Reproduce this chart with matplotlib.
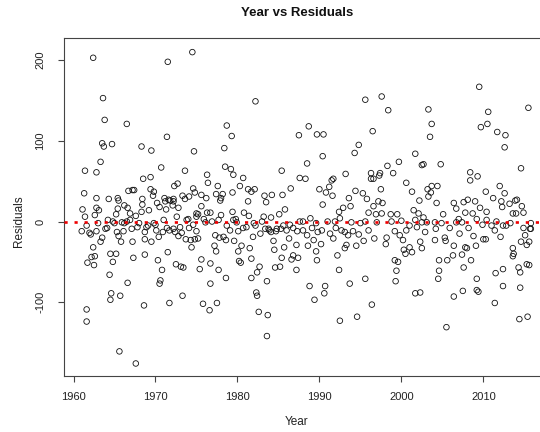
import matplotlib
matplotlib.use("Agg")
import matplotlib.pyplot as plt

# residual points, (year, residual)
pts_1960s = [
    (1962.4, 203), (1971.5, 198), (1963.6, 153), (1963.8, 126), (1966.5, 121), (1971.4, 105),
    (1963.5, 97), (1963.7, 93), (1964.7, 96), (1968.3, 93), (1969.5, 88), (1963.3, 74),
    (1961.4, 63), (1962.8, 61), (1970.7, 67), (1968.5, 53), (1969.4, 55), (1972.3, 44),
    (1972.7, 47), (1961.3, 35), (1962.8, 29), (1965.4, 29), (1965.5, 26), (1966.7, 38),
    (1967.2, 39), (1967.4, 39), (1968.4, 28), (1969.4, 40), (1969.8, 37), (1969.7, 32),
    (1971.1, 29), (1971.6, 27), (1972.2, 28), (1973.3, 32),
    (1961.1, 15), (1961.4, 6), (1962.8, 17), (1963.1, 14), (1962.6, 8), (1964.3, 28),
    (1966.2, 20), (1966.6, 17), (1965.4, 16), (1965.2, 9), (1966.9, 10), (1967.6, 7),
    (1968.4, 21), (1968.3, 12), (1969.2, 14), (1970.2, 23), (1970.5, 18), (1971.2, 25),
    (1971.8, 26), (1972.2, 25), (1971.3, 15), (1972.1, 20), (1972.8, 17), (1972.6, 6),
    (1961.0, -12), (1961.6, -5), (1961.95, -14), (1962.1, -16), (1962.8, -12), (1963.0, -2),
    (1963.5, -20), (1963.3, -25), (1963.9, -9), (1964.1, -8), (1964.2, 2), (1964.8, 0),
    (1965.0, -2), (1965.3, -13), (1965.8, -25), (1965.5, -18), (1965.9, -1), (1966.2, -2),
    (1966.5, 0), (1966.1, -12), (1966.9, 2), (1967.1, -9), (1967.2, -25), (1967.8, -7),
    (1968.0, -2), (1968.7, -13), (1968.9, -7), (1968.7, -22), (1969.1, -5), (1969.5, -25),
    (1969.8, -2), (1970.0, -4), (1970.1, -11), (1970.4, -19), (1970.9, -13), (1971.0, 2),
    (1971.4, -8), (1971.7, -11), (1972.2, -9), (1972.4, -13), (1972.8, -18), (1973.0, -7),
    (1973.2, -14),
    (1962.4, -32), (1962.6, -43), (1962.2, -44), (1961.7, -51), (1962.5, -54), (1964.5, -40),
    (1965.2, -40), (1964.8, -50), (1964.4, -66), (1967.3, -45), (1968.7, -41), (1966.6, -76),
    (1964.6, -89), (1964.5, -97), (1965.7, -92), (1968.6, -104), (1961.6, -109), (1961.6, -124),
    (1965.6, -161), (1967.6, -176), (1970.3, -48), (1970.8, -60), (1971.5, -38), (1970.6, -73),
    (1970.5, -77), (1971.7, -101), (1972.5, -53), (1973.1, -56), (1973.3, -92),
]

pts_1970s = [
    (1974.5, 210), (1982.2, 149), (1978.7, 119), (1979.3, 106), (1987.5, 107), (1974.7, 87),
    (1978.4, 91), (1973.6, 63), (1976.3, 58), (1978.5, 68), (1979.2, 65), (1979.5, 58),
    (1980.7, 54), (1985.4, 63), (1987.6, 54), (1976.4, 48), (1977.6, 44), (1974.6, 41),
    (1974.8, 36), (1974.1, 31), (1973.6, 28), (1975.6, 33), (1976.2, 29), (1977.4, 34),
    (1978.2, 34), (1978.0, 29), (1977.9, 26), (1979.4, 36), (1980.3, 44), (1981.3, 40),
    (1981.7, 37), (1982.1, 40), (1981.3, 25), (1983.3, 32), (1984.2, 33), (1983.5, 24),
    (1985.5, 33), (1986.5, 41),
    (1975.6, 19), (1976.3, 11), (1976.7, 11), (1975.2, 9), (1975.0, 6), (1978.0, 8),
    (1979.4, 12), (1980.8, 11), (1981.4, 7), (1979.8, 3), (1983.2, 6), (1984.1, 5),
    (1985.1, 9), (1985.8, 15),
    (1973.8, 2), (1974.1, -8), (1974.6, -4), (1975.0, -12), (1973.7, -22), (1974.3, -23),
    (1974.8, -22), (1975.2, -21), (1974.4, -32), (1977.3, -17), (1977.8, -20), (1977.2, -30),
    (1977.4, -37), (1978.3, -19), (1978.6, -23), (1979.1, -11), (1979.6, -24), (1980.1, -12),
    (1980.7, -8), (1981.1, -7), (1982.0, -2), (1981.9, -19), (1982.8, -15), (1980.1, -37),
    (1980.5, -30), (1981.5, -33), (1981.7, -46), (1983.4, -9), (1984.1, -13), (1984.7, -12),
    (1985.3, -9), (1986.0, -11), (1986.8, -8), (1987.3, -12), (1984.4, -24), (1984.5, -35),
    (1985.7, -32), (1986.3, -21), (1987.2, -29), (1985.4, -45), (1986.6, -47), (1986.8, -42),
    (1987.4, -45),
    (1974.0, 3), (1975.0, 10), (1975.9, 3), (1976.1, -1), (1976.9, 0), (1977.7, 2),
    (1978.7, -5), (1979.5, 2), (1979.9, -1), (1982.2, -5), (1983.0, 0), (1983.8, -9),
    (1983.9, -11), (1984.8, -9), (1985.6, -5), (1986.4, -4), (1987.6, 0),
    (1975.6, -47), (1976.7, -52), (1975.4, -59), (1977.7, -60), (1978.6, -70), (1976.7, -77),
    (1973.4, -57), (1980.2, -49), (1980.4, -51), (1982.7, -56), (1982.4, -63), (1981.7, -70),
    (1983.6, -74), (1984.6, -57), (1985.2, -56), (1987.2, -60), (1982.3, -88), (1982.4, -92),
    (1975.8, -102), (1977.5, -101), (1976.6, -110), (1982.6, -112), (1983.7, -116), (1983.6, -142),
]

pts_1990s = [
    (1995.6, 151), (1997.6, 155), (1998.4, 138), (1988.7, 118), (1989.7, 108), (1990.5, 108),
    (1996.5, 112), (1994.8, 95), (1994.3, 85), (1990.4, 81), (2001.7, 84), (1988.5, 72),
    (1999.7, 74), (1998.3, 69), (2002.5, 70), (1999.0, 60), (1993.2, 59), (1996.3, 60),
    (1996.3, 53), (1997.4, 60), (1997.3, 57), (1996.6, 53), (1988.3, 53), (1991.5, 51),
    (1991.7, 53), (1991.2, 43), (2000.6, 48), (1990.0, 40), (1990.8, 36), (1991.6, 32),
    (1994.4, 38), (1995.3, 35), (1995.8, 28), (1993.6, 29), (1997.5, 40), (2001.3, 37),
    (2002.2, 26), (1997.2, 25), (1997.7, 23),
    (1990.4, 21), (1992.4, 12), (1992.9, 17), (1993.8, 19), (1996.6, 19), (1996.0, 11),
    (1996.9, 9), (1997.6, 10), (1998.7, 9), (1999.5, 9), (2001.5, 14), (2002.1, 10),
    (1988.0, -11), (1988.5, -17), (1989.1, -8), (1989.3, -23), (1989.8, -13), (1990.3, -11),
    (1988.6, -30), (1990.2, -28), (1989.6, -37), (1989.7, -48), (1991.3, -15), (1991.7, -21),
    (1992.0, -8), (1992.7, -11), (1993.1, -13), (1993.5, -17), (1994.1, -12), (1994.8, -16),
    (1995.4, -24), (1996.0, -11), (1996.7, -21), (1993.1, -33), (1993.3, -29), (1994.5, -30),
    (1992.2, -42), (1992.4, -60), (1998.2, -20), (1998.1, -28), (1999.2, -12), (1999.8, -17),
    (2000.2, -23), (2000.6, -11), (2001.0, -5), (2001.9, -7), (2002.3, -25), (2002.5, -33),
    (2000.3, -35), (2000.5, -40), (2001.0, -32), (2001.3, -38), (1999.2, -48), (1999.6, -50),
    (1999.4, -61), (1999.3, -74), (1995.6, -71), (1993.7, -77), (1988.8, -80), (1990.7, -80),
    (1990.6, -89), (1989.4, -97), (1996.4, -103), (1994.6, -118), (1992.5, -123), (2001.7, -89),
    (2002.3, -88),
    (1988.0, 0), (1988.9, 4), (1989.6, -2), (1991.0, 0), (1991.9, 0), (1992.5, 4),
    (1993.9, -1), (1995.0, -2), (1995.6, 0), (1997.0, -1), (1998.8, 0), (2000.0, 1),
    (2001.7, 2), (2002.5, -1),
]

pts_2000s = [
    (2009.5, 167), (2003.3, 139), (2003.7, 121), (2003.5, 105), (2010.6, 136), (2010.5, 121),
    (2009.7, 117), (2015.5, 141), (2011.7, 111), (2012.7, 107), (2012.6, 92), (2002.7, 71),
    (2004.8, 71), (2014.6, 66), (2008.4, 61), (2009.3, 56), (2008.4, 51), (2012.0, 44),
    (2012.6, 35), (2010.3, 37), (2003.2, 40), (2003.7, 44), (2004.4, 44), (2003.6, 36),
    (2003.3, 31), (2004.3, 23), (2006.4, 23), (2007.6, 24), (2008.1, 27), (2009.0, 25),
    (2011.2, 29), (2012.2, 25), (2014.1, 27), (2013.2, 22),
    (2006.7, 16), (2007.8, 11), (2008.7, 10), (2009.6, 17), (2010.4, 12), (2012.3, 18),
    (2013.9, 26), (2014.7, 19), (2013.6, 10), (2014.0, 10), (2014.9, 11),
    (2002.7, 5), (2003.1, -1), (2004.1, -1), (2005.1, 9), (2004.9, -2), (2005.9, -8),
    (2006.7, -1), (2007.0, 3), (2007.4, -1), (2008.2, -8), (2009.2, 3), (2009.9, -4),
    (2010.4, 2), (2011.0, -5), (2011.6, 0), (2012.4, -5), (2013.3, -2), (2014.9, -8),
    (2015.8, -9), (2015.8, -2),
    (2002.9, -13), (2004.2, -9), (2004.1, -23), (2005.3, -20), (2005.4, -24), (2006.4, -30),
    (2007.1, -15), (2007.8, -32), (2008.0, -33), (2008.8, -18), (2009.1, -30), (2010.0, -22),
    (2010.3, -22), (2011.4, -11), (2012.1, -19), (2012.8, -5), (2013.6, -33), (2013.7, -40),
    (2014.6, -25), (2015.1, -17), (2015.3, -29), (2015.6, -25), (2015.7, -9),
    (2004.6, -48), (2005.6, -48), (2004.6, -61), (2004.5, -71), (2006.3, -42), (2007.4, -41),
    (2007.6, -57), (2008.5, -48), (2009.2, -71), (2009.2, -85), (2009.4, -87), (2007.5, -86),
    (2006.4, -93), (2005.5, -131), (2011.5, -64), (2012.4, -59), (2012.4, -80), (2011.4, -101),
    (2013.6, -43), (2014.3, -57), (2014.5, -63), (2015.3, -53), (2015.6, -54), (2014.5, -82),
    (2014.4, -121), (2015.4, -118),
]

x_ticks = [1960, 1970, 1980, 1990, 2000, 2010]
y_ticks = [-100, 0, 100, 200]

points = pts_1960s + pts_1970s + pts_1990s + pts_2000s
year = [p[0] for p in points]
resid = [p[1] for p in points]

plt.rcParams['font.family'] = ['Liberation Sans', 'DejaVu Sans']

W, H = 540, 432
fig = plt.figure(figsize=(W / 100, H / 100), dpi=100)
ax = fig.add_axes([64 / W, 1 - 376 / H, (542 - 64) / W, (376 - 38) / H])

ax.scatter(year, resid, s=16, facecolors='none', edgecolors='#111111', linewidths=0.6, zorder=2)
ax.axhline(0, color='#ee0000', lw=1.9, dashes=(1.2, 2.6), zorder=3)

# R style: 4% padding
xmin, xmax = 1961, 2015
ymin, ymax = -176, 212
ax.set_xlim(xmin - 0.04 * (xmax - xmin), xmax + 0.04 * (xmax - xmin))
ax.set_ylim(ymin - 0.04 * (ymax - ymin), ymax + 0.04 * (ymax - ymin))

ax.set_xticks(x_ticks)
ax.set_yticks(y_ticks)
ax.set_yticklabels([str(v) for v in y_ticks], rotation=90, va='center')
ax.tick_params(direction='out', length=4.3, width=0.8, color='#444444',
               labelsize=8, labelcolor='#222222', pad=7.5)
ax.tick_params(axis='y', pad=9)
for sp in ax.spines.values():
    sp.set_color('#444444')
    sp.set_linewidth(0.8)

fig.text(297 / W, 1 - 13 / H, "Year vs Residuals", ha='center', va='center',
         fontsize=9.5, fontweight='bold', color='#111111')
fig.text(297 / W, 1 - 422 / H, "Year", ha='center', va='center', fontsize=8.5, color='#222222')
fig.text(19 / W, 1 - 221 / H, "Residuals", ha='center', va='center', rotation=90,
         fontsize=8.5, color='#222222')

fig.savefig("out.png", dpi=100)
